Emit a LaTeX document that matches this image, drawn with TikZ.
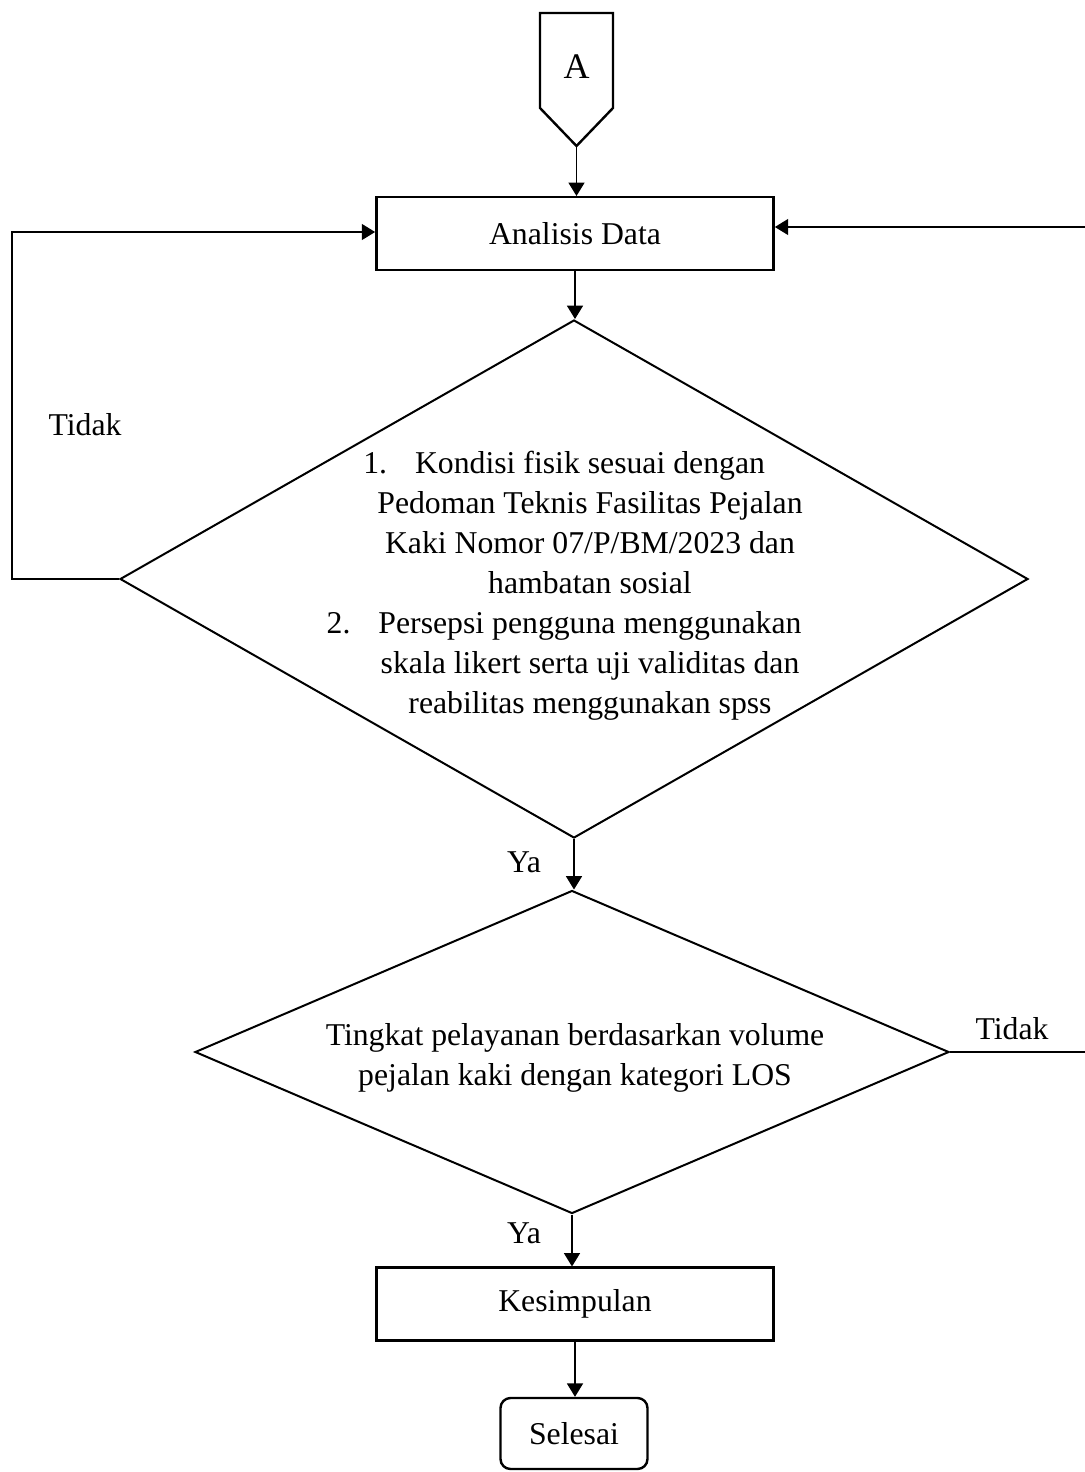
\documentclass[tikz,border=0pt]{standalone}
\usepackage{fontspec}
\setmainfont{Liberation Serif}
\usetikzlibrary{shapes.geometric,arrows.meta}
\begin{document}
\begin{tikzpicture}[x=0.75pt,y=-0.75pt,
  every node/.style={font=\fontsize{23.8pt}{30pt}\selectfont},
  procbox/.style={draw,line width=1.8pt,minimum width=298pt,minimum height=54.5pt,inner sep=0pt},
  endbox/.style={draw,line width=1.8pt,rounded corners=7.5pt,minimum width=110.25pt,minimum height=53.25pt,inner sep=0pt},
  dia/.style={draw,shape=diamond,line width=1.5pt,inner sep=0pt},
  conn/.style={line width=1pt,-{Triangle[length=10pt,width=12pt]}}]
\useasboundingbox (0,0) rectangle (1085,1472);
% off-page connector
\draw[line width=1.8pt] (540,13) -- (613,13) -- (613,108) -- (576.5,146) -- (540,108) -- cycle;
\node[font=\fontsize{27pt}{30pt}\selectfont] (A) at (576.5,67) {A};
\coordinate (Abot) at (576.5,146);
% process boxes
\node[procbox] (ad) at (575,233.5) {Analisis Data};
\node[dia,minimum width=681pt,minimum height=388.5pt] (d1) at (574,579) {};
\node[align=center] (d1t) at (590,586) {\leavevmode\llap{1.\hspace{21pt}}Kondisi fisik sesuai dengan\\
Pedoman Teknis Fasilitas Pejalan\\
Kaki Nomor 07/P/BM/2023 dan\\
hambatan sosial\\
\leavevmode\llap{2.\hspace{21pt}}Persepsi pengguna menggunakan\\
skala likert serta uji validitas dan\\
reabilitas menggunakan spss};
\node[dia,minimum width=565.5pt,minimum height=242.25pt] (d2) at (572,1052) {};
\node[align=center] (d2t) at (575,1058) {Tingkat pelayanan berdasarkan volume\\pejalan kaki dengan kategori LOS};
\node[procbox] (ks) at (575,1304) {Kesimpulan};
\node[endbox] (sl) at (574,1433.5) {Selesai};
% labels
\node (t1) at (85,425) {Tidak};
\node (y1) at (524,862) {Ya};
\node (t2) at (1012,1029) {Tidak};
\node (y2) at (524,1233) {Ya};
% connectors
\draw[conn] (Abot) -- (Abot |- ad.north);
\draw[conn] (ad.south) -- (ad.south |- d1.north);
\draw[conn] (d1.south) -- (d1.south |- d2.north);
\draw[conn] (d2.south) -- (d2.south |- ks.north);
\draw[conn] (ks.south) -- (ks.south |- sl.north);
\coordinate (lc) at (12,232);
\draw[conn] (d1.west) -| (lc) -- (lc -| ad.west);
\coordinate (rc) at (1086,227);
\draw[conn] (d2.east) -| (rc) -- (rc -| ad.east);
\end{tikzpicture}
\end{document}
